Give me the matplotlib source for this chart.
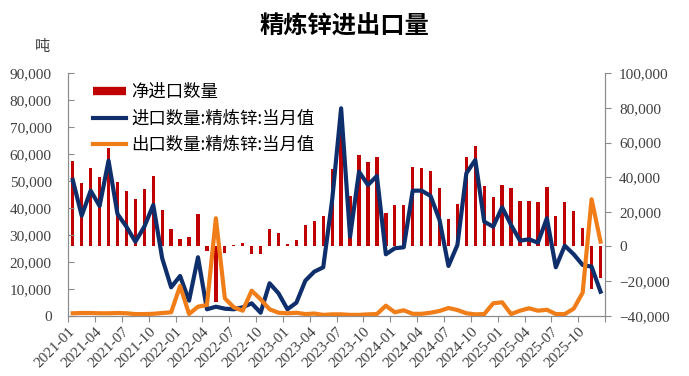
import matplotlib
matplotlib.use('Agg')
import matplotlib.pyplot as plt
from matplotlib.lines import Line2D
from matplotlib.ticker import FuncFormatter
import numpy as np

plt.rcParams['font.family'] = ['Noto Sans CJK SC', 'DejaVu Sans']

months = ['%d-%02d' % (y, m) for y in range(2021, 2026) for m in range(1, 13)]

# 净进口数量 (right axis)
net_import = [49500, 36790, 45280, 39900, 56830, 37020, 32000, 27370, 33150, 40660,
              20850, 9870, 4270, 5250, 18710, -2660, -31900, -3990, 600, 1960,
              -4560, -4200, 9870, 7560, 1200, 3700, 12530, 14840, 17730, 44870,
              76000, 29110, 52790, 48740, 51460, 19460, 24080, 23740, 45860, 45280,
              43720, 33900, 15820, 24490, 51800, 57980, 34880, 28700, 35290, 33550,
              26390, 26050, 25640, 34300, 17730, 25640, 20620, 10450, -24600, -18250]

# 进口数量:精炼锌:当月值 (left axis)
imports = [50390, 37130, 46420, 40730, 57560, 37760, 33050, 27480, 33050, 41110,
           21310, 10550, 14740, 5570, 21690, 2380, 3340, 2600, 2380, 3120,
           4600, 1110, 12030, 8320, 2380, 4830, 13000, 16340, 17970, 43000,
           77000, 29330, 53470, 48530, 51870, 22800, 25030, 25400, 46420, 46420,
           44450, 35540, 18460, 26250, 52880, 57820, 34900, 33050, 40250, 33680,
           27850, 28370, 27110, 36170, 17970, 26000, 22800, 18830, 18200, 8910]

# 出口数量:精炼锌:当月值 (left axis)
exports = [900, 1000, 1000, 900, 900, 1000, 900, 600, 600, 700,
           1000, 1260, 11030, 630, 3340, 3970, 36170, 6460, 3120, 1860,
           9280, 6090, 2380, 1110, 890, 1100, 600, 800, 300, 500,
           500, 300, 300, 500, 600, 3710, 1260, 2000, 700, 700,
           1100, 1750, 2860, 2100, 900, 500, 600, 4600, 4980, 600,
           1860, 2750, 1860, 2200, 600, 600, 2600, 8540, 43220, 27480]

red = '#C00000'
blue = '#0E2F6C'
orange = '#F07D17'
grey = '#8C8C8C'
serif = 'Liberation Serif'

fig = plt.figure(figsize=(6.89, 3.76), dpi=100)
ax = fig.add_axes([0.0991, 0.1604, 0.779, 0.6447])
ax2 = ax.twinx()

x = np.arange(len(months))
ax2.bar(x, net_import, width=0.37, color=red, zorder=1)
ax.plot(x, imports, color=blue, lw=3, zorder=3)
ax.plot(x, exports, color=orange, lw=3, zorder=3)

# lines above bars
ax.set_zorder(ax2.get_zorder() + 1)
ax.patch.set_visible(False)

ax.set_xlim(-0.5, len(months) - 0.5)
ax.set_ylim(0, 90000)
ax.set_yticks(np.arange(0, 90001, 10000))
ax2.set_ylim(-40000, 100000)
ax2.set_yticks(np.arange(-40000, 100001, 20000))

fmt = FuncFormatter(lambda v, p: '{:,}'.format(int(v)).replace('-', '\u2212'))
ax.yaxis.set_major_formatter(fmt)
ax2.yaxis.set_major_formatter(fmt)

ticks = np.arange(-0.5, len(months), 3)
ax.set_xticks(ticks)
ax.set_xticklabels(months[::3] + [''] * (len(ticks) - len(months[::3])),
                   rotation=45, ha='right', rotation_mode='anchor',
                   family=serif, fontsize=11, color='#404040')

for lab in ax.get_yticklabels() + ax2.get_yticklabels():
    lab.set_family(serif)
    lab.set_fontsize(11)
    lab.set_color('#404040')

for a in (ax, ax2):
    a.spines['top'].set_visible(False)
    for s in ('left', 'right', 'bottom'):
        a.spines[s].set_color(grey)
ax.tick_params(axis='y', direction='in', length=4, color=grey, pad=12)
ax2.tick_params(axis='y', direction='out', length=4, color=grey, pad=6)
ax.tick_params(axis='x', direction='out', length=4, color=grey, pad=3)

handles = [Line2D([], [], color=red, lw=6, solid_capstyle='butt'),
           Line2D([], [], color=blue, lw=3),
           Line2D([], [], color=orange, lw=3)]
labels = ['净进口数量', '进口数量:精炼锌:当月值', '出口数量:精炼锌:当月值']
fig.legend(handles, labels, loc='upper left', bbox_to_anchor=(93 / 689, 1 - 83 / 376),
           frameon=False, fontsize=12.5, handlelength=1.9, handletextpad=0.3,
           labelspacing=0.5, borderaxespad=0, borderpad=0)

fig.text(0.5, 1 - 27 / 376, '精炼锌进出口量', ha='center', va='center',
         fontsize=17.5, fontweight='bold')
fig.text(43 / 689, 1 - 47 / 376, '吨', ha='center', va='center', fontsize=11,
         color='#404040')

plt.savefig('out.png', dpi=100)
